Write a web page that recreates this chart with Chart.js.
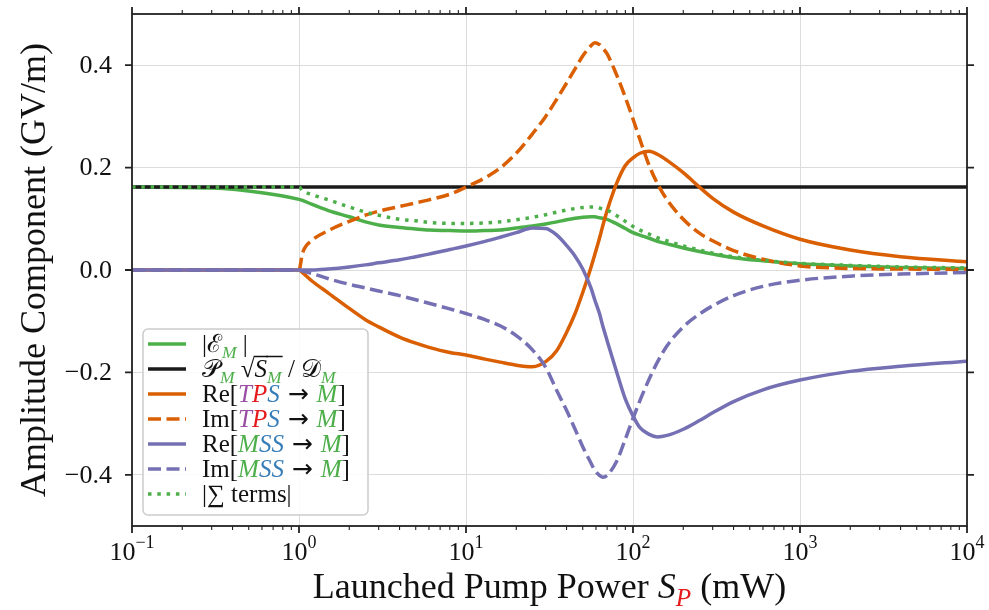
<!DOCTYPE html>
<html lang="en">
<head>
<meta charset="UTF-8">
<title>Amplitude components vs launched pump power</title>
<script src="https://cdn.jsdelivr.net/npm/chart.js"></script>
<style>
  html, body { margin: 0; padding: 0; background: #fff; }
  #wrap { width: 989px; height: 610px; }
</style>
</head>
<body>
<div id="wrap"><canvas id="chart" width="989" height="610"></canvas></div>
<script>
// Launched pump power S_P (mW), log axis
const pumpPower = [0.1, 0.3, 0.6, 1, 1.05, 1.2, 1.5, 2, 2.5, 3, 4, 5, 6, 8, 10, 13, 16, 20, 25, 30,
  35, 40, 45, 50, 56, 59, 63, 66, 70, 80, 90, 100, 110, 125, 140, 160, 200, 250, 300, 400,
  600, 1000, 2000, 4000, 10000]

// amplitude components (GV/m), one value per pumpPower entry
const absField = [0.162, 0.160, 0.151, 0.138, 0.136, 0.128, 0.116, 0.104, 0.094, 0.088, 0.083, 0.080, 0.078, 0.077, 0.076, 0.077, 0.078, 0.082, 0.086, 0.090,
  0.094, 0.098, 0.101, 0.103, 0.104, 0.104, 0.102, 0.101, 0.099, 0.090, 0.081, 0.073, 0.068, 0.062, 0.056, 0.051, 0.043, 0.036, 0.031, 0.024,
  0.018, 0.012, 0.008, 0.005, 0.003]
const reference = [0.162, 0.162, 0.162, 0.162, 0.162, 0.162, 0.162, 0.162, 0.162, 0.162, 0.162, 0.162, 0.162, 0.162, 0.162, 0.162, 0.162, 0.162, 0.162, 0.162,
  0.162, 0.162, 0.162, 0.162, 0.162, 0.162, 0.162, 0.162, 0.162, 0.162, 0.162, 0.162, 0.162, 0.162, 0.162, 0.162, 0.162, 0.162, 0.162, 0.162,
  0.162, 0.162, 0.162, 0.162, 0.162]
const reTPS = [0, 0, 0, 0, -0.005, -0.022, -0.045, -0.075, -0.097, -0.111, -0.131, -0.143, -0.151, -0.161, -0.166, -0.174, -0.180, -0.186, -0.189, -0.179,
  -0.157, -0.122, -0.085, -0.044, 0.005, 0.030, 0.062, 0.087, 0.116, 0.170, 0.204, 0.219, 0.228, 0.232, 0.226, 0.214, 0.190, 0.162, 0.140, 0.113,
  0.086, 0.060, 0.039, 0.026, 0.016]
const imTPS = [0, 0, 0, 0, 0.033, 0.058, 0.077, 0.095, 0.107, 0.115, 0.124, 0.131, 0.137, 0.148, 0.162, 0.180, 0.199, 0.228, 0.266, 0.300,
  0.334, 0.365, 0.393, 0.418, 0.438, 0.444, 0.440, 0.433, 0.422, 0.380, 0.337, 0.295, 0.255, 0.204, 0.169, 0.137, 0.099, 0.072, 0.057, 0.038,
  0.021, 0.008, 0.003, 0.002, 0.001]
const reMSS = [0, 0, 0, 0, 0.000, 0.000, 0.002, 0.006, 0.010, 0.014, 0.020, 0.026, 0.031, 0.040, 0.047, 0.056, 0.064, 0.073, 0.082, 0.081,
  0.068, 0.048, 0.027, 0.002, -0.035, -0.058, -0.085, -0.110, -0.138, -0.200, -0.252, -0.285, -0.308, -0.321, -0.326, -0.323, -0.311, -0.294, -0.279, -0.257,
  -0.234, -0.215, -0.198, -0.188, -0.178]
const imMSS = [0, 0, 0, 0, -0.002, -0.007, -0.017, -0.028, -0.035, -0.041, -0.050, -0.058, -0.065, -0.076, -0.085, -0.097, -0.109, -0.128, -0.156, -0.190,
  -0.236, -0.274, -0.311, -0.345, -0.377, -0.391, -0.401, -0.405, -0.401, -0.373, -0.330, -0.290, -0.255, -0.213, -0.180, -0.148, -0.111, -0.086, -0.070, -0.050,
  -0.032, -0.020, -0.012, -0.008, -0.005]
const sumTerms = [0.162, 0.162, 0.162, 0.162, 0.155, 0.147, 0.137, 0.123, 0.113, 0.107, 0.099, 0.096, 0.093, 0.091, 0.091, 0.092, 0.094, 0.098, 0.103, 0.108,
  0.113, 0.117, 0.120, 0.122, 0.123, 0.123, 0.121, 0.119, 0.117, 0.106, 0.095, 0.085, 0.078, 0.070, 0.063, 0.057, 0.047, 0.039, 0.033, 0.026,
  0.019, 0.013, 0.009, 0.006, 0.004]

const xTicks = [0.1, 1, 10, 100, 1000, 10000]
const xTickExponents = ["\u22121", "0", "1", "2", "3", "4"]
const yTicks = [-0.4, -0.2, 0, 0.2, 0.4]
const yTickLabels = ["\u22120.4", "\u22120.2", "0.0", "0.2", "0.4"]

const GREEN = "#4daf4a", BLACK = "#1a1a1a", ORANGE = "#d95f02", PURPLE = "#7570b3"
const RED = "#e41a1c", BLUE = "#377eb8", VIOLET = "#984ea3"

// legend labels as text runs: t text, i italic, sub subscript, c colour, ol overline, f font
const ARROW = { t: " \u2192 ", f: '"DejaVu Sans"' }
const legendLabels = [
  [{ t: "|" }, { t: "\u2130" }, { t: "M", i: 1, sub: 1, c: GREEN }, { t: " |" }],
  [{ t: "\uD835\uDCAB" }, { t: "M", i: 1, sub: 1, c: GREEN }, { t: " \u221A" }, { t: "S", i: 1, ol: 1 },
   { t: "M", i: 1, sub: 1, c: GREEN, ol: 1 }, { t: " / " }, { t: "\uD835\uDC9F" }, { t: "M", i: 1, sub: 1, c: GREEN }],
  [{ t: "Re[" }, { t: "T", i: 1, c: VIOLET }, { t: "P", i: 1, c: RED }, { t: "S", i: 1, c: BLUE }, ARROW, { t: "M", i: 1, c: GREEN }, { t: "]" }],
  [{ t: "Im[" }, { t: "T", i: 1, c: VIOLET }, { t: "P", i: 1, c: RED }, { t: "S", i: 1, c: BLUE }, ARROW, { t: "M", i: 1, c: GREEN }, { t: "]" }],
  [{ t: "Re[" }, { t: "M", i: 1, c: GREEN }, { t: "S", i: 1, c: BLUE }, { t: "S", i: 1, c: BLUE }, ARROW, { t: "M", i: 1, c: GREEN }, { t: "]" }],
  [{ t: "Im[" }, { t: "M", i: 1, c: GREEN }, { t: "S", i: 1, c: BLUE }, { t: "S", i: 1, c: BLUE }, ARROW, { t: "M", i: 1, c: GREEN }, { t: "]" }],
  [{ t: "|\u2211 terms|" }],
]
const xTitle = [{ t: "Launched Pump Power " }, { t: "S", i: 1 }, { t: "P", i: 1, sub: 1, c: RED }, { t: " (mW)" }]
const yTitle = [{ t: "Amplitude Component (GV/m)" }]

const FONT = '"Liberation Serif", "DejaVu Serif", serif'

function pts(values) {
  return pumpPower.map((x, i) => ({ x, y: values[i] }))
}

const DASHED = [13, 5.5], DOTTED = [3.5, 5.8]
const series = [
  { data: absField, color: GREEN, dash: [] },
  { data: reference, color: BLACK, dash: [] },
  { data: reTPS, color: ORANGE, dash: [] },
  { data: imTPS, color: ORANGE, dash: DASHED },
  { data: reMSS, color: PURPLE, dash: [] },
  { data: imMSS, color: PURPLE, dash: DASHED },
  { data: sumTerms, color: GREEN, dash: DOTTED },
]

function drawRuns(ctx, runs, x, y, size, align) {
  const parts = runs.map(r => {
    const s = r.sub ? size * 0.7 : size
    const font = `${r.i ? "italic " : ""}${s}px ${r.f || FONT}`
    ctx.font = font
    return { ...r, font, w: ctx.measureText(r.t).width, dy: r.sub ? size * 0.22 : 0 }
  })
  const total = parts.reduce((s, p) => s + p.w, 0)
  let cx = align === "center" ? x - total / 2 : align === "right" ? x - total : x
  ctx.textBaseline = "alphabetic"
  ctx.textAlign = "left"
  for (const p of parts) {
    ctx.font = p.font
    ctx.fillStyle = p.c || "#111"
    ctx.fillText(p.t, cx, y + p.dy)
    if (p.ol) {
      ctx.strokeStyle = "#111"
      ctx.lineWidth = 1.5
      ctx.setLineDash([])
      ctx.beginPath()
      ctx.moveTo(cx - 1, y - size * 0.82)
      ctx.lineTo(cx + p.w + 1, y - size * 0.82)
      ctx.stroke()
    }
    cx += p.w
  }
}

// frame, ticks, tick labels, titles and legend
const axesPlugin = {
  id: "axesDecor",
  afterDraw(chart) {
    const { ctx, chartArea: a, scales: { x, y } } = chart
    ctx.save()
    ctx.setLineDash([])
    ctx.strokeStyle = "#222"
    ctx.lineWidth = 1.8
    ctx.strokeRect(a.left, a.top, a.right - a.left, a.bottom - a.top)

    ctx.beginPath()
    xTicks.forEach(v => {
      const px = x.getPixelForValue(v)
      ctx.moveTo(px, a.bottom); ctx.lineTo(px, a.bottom + 7)
      ctx.moveTo(px, a.top); ctx.lineTo(px, a.top - 7)
    })
    yTicks.forEach(v => {
      const py = y.getPixelForValue(v)
      ctx.moveTo(a.left, py); ctx.lineTo(a.left - 7, py)
      ctx.moveTo(a.right, py); ctx.lineTo(a.right + 7, py)
    })
    ctx.stroke()
    ctx.lineWidth = 1.1
    ctx.beginPath()
    xTicks.slice(0, -1).forEach(d => {
      for (let k = 2; k <= 9; k++) {
        const px = x.getPixelForValue(d * k)
        ctx.moveTo(px, a.bottom); ctx.lineTo(px, a.bottom + 4)
        ctx.moveTo(px, a.top); ctx.lineTo(px, a.top - 4)
      }
    })
    ctx.stroke()

    // tick labels
    ctx.fillStyle = "#111"
    ctx.font = `26px ${FONT}`
    ctx.textAlign = "right"
    ctx.textBaseline = "middle"
    yTicks.forEach((v, i) => ctx.fillText(yTickLabels[i], a.left - 20, y.getPixelForValue(v) + 1))
    xTicks.forEach((v, i) => {
      const px = x.getPixelForValue(v)
      ctx.font = `26px ${FONT}`
      const w1 = ctx.measureText("10").width
      ctx.font = `18px ${FONT}`
      const w2 = ctx.measureText(xTickExponents[i]).width
      const left = px - (w1 + w2) / 2
      ctx.textAlign = "left"
      ctx.textBaseline = "alphabetic"
      ctx.font = `26px ${FONT}`
      ctx.fillText("10", left, a.bottom + 34)
      ctx.font = `18px ${FONT}`
      ctx.fillText(xTickExponents[i], left + w1, a.bottom + 22)
    })

    // axis titles
    drawRuns(ctx, xTitle, (a.left + a.right) / 2, 598, 36, "center")
    ctx.save()
    ctx.translate(45, (a.top + a.bottom) / 2)
    ctx.rotate(-Math.PI / 2)
    drawRuns(ctx, yTitle, 0, 0, 36, "center")
    ctx.restore()

    // legend
    const lx = 143, ly = 329, lw = 225, lh = 186
    ctx.fillStyle = "rgba(255,255,255,0.85)"
    ctx.strokeStyle = "#cccccc"
    ctx.lineWidth = 1.5
    ctx.beginPath()
    ctx.roundRect(lx, ly, lw, lh, 5)
    ctx.fill()
    ctx.stroke()
    legendLabels.forEach((runs, i) => {
      const cy = ly + 15 + i * 25
      const s = series[i]
      ctx.strokeStyle = s.color
      ctx.lineWidth = 3.5
      ctx.setLineDash(s.dash)
      ctx.beginPath()
      ctx.moveTo(lx + 5, cy)
      ctx.lineTo(lx + 43, cy)
      ctx.stroke()
      ctx.setLineDash([])
      drawRuns(ctx, runs, lx + 59, cy + 8, 25, "left")
    })
    ctx.restore()
  }
}

new Chart(document.getElementById("chart"), {
  type: "line",
  data: {
    datasets: series.map((s, i) => ({
      data: pts(s.data),
      borderColor: s.color,
      borderDash: s.dash,
      borderWidth: 3.5,
      pointRadius: 0,
      cubicInterpolationMode: "monotone",
      fill: false,
      order: series.length - i,
    })),
  },
  options: {
    responsive: false,
    animation: false,
    devicePixelRatio: 1,
    layout: { padding: { left: 132, right: 22, top: 14, bottom: 84 } },
    plugins: { legend: { display: false }, tooltip: { enabled: false } },
    scales: {
      x: {
        type: "logarithmic",
        min: 0.1,
        max: 10000,
        afterBuildTicks: sc => { sc.ticks = xTicks.map(value => ({ value })) },
        ticks: { display: false },
        grid: { color: "#dcdcdc", lineWidth: 1, drawTicks: false },
        border: { display: false },
      },
      y: {
        type: "linear",
        min: -0.5,
        max: 0.5,
        afterBuildTicks: sc => { sc.ticks = yTicks.map(value => ({ value })) },
        ticks: { display: false },
        grid: { color: "#dcdcdc", lineWidth: 1, drawTicks: false },
        border: { display: false },
      },
    },
  },
  plugins: [axesPlugin],
})
</script>
</body>
</html>
